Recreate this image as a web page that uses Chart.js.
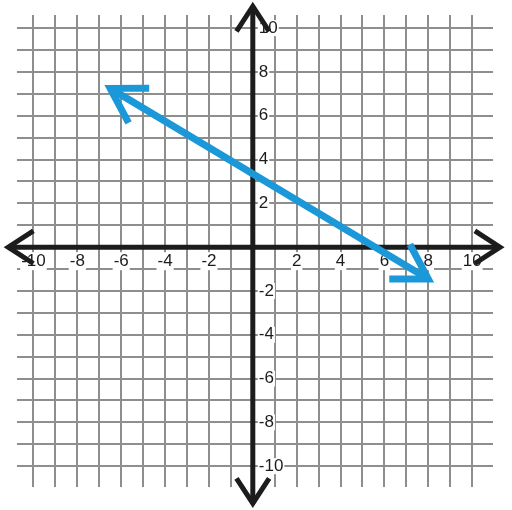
<!DOCTYPE html>
<html>
<head>
<meta charset="utf-8">
<script src="https://cdn.jsdelivr.net/npm/chart.js@4.4.0/dist/chart.umd.min.js"></script>
<style>
  html, body { margin: 0; padding: 0; background: #fff; }
</style>
</head>
<body>
<canvas id="graph" width="512" height="510"></canvas>
<script>
// grid runs a little past +-10 like the worksheet
const xRange = [-10.75, 10.95];
const yRange = [-10.95, 10.6];
const xTicks = [-10, -8, -6, -4, -2, 2, 4, 6, 8, 10];
const yTicks = [10, 8, 6, 4, 2, -2, -4, -6, -8, -10];
// where the axis arrows point to
const xAxisEnds = [-11.15, 11.27];
const yAxisEnds = [-11.7, 11.0];
// the blue line, arrow at each end
const lineX = [-6.5, 8.0];
const lineY = [7.25, -1.45];

const blue = '#1a98d8';
const ink = '#1c1c1c';
const labelFont = '17px "Liberation Sans", Arial, sans-serif';

function chevron(c, tx, ty, ang, len, spread) {
  // ang = direction the arms go back towards
  c.beginPath();
  c.moveTo(tx + len * Math.cos(ang - spread), ty + len * Math.sin(ang - spread));
  c.lineTo(tx, ty);
  c.lineTo(tx + len * Math.cos(ang + spread), ty + len * Math.sin(ang + spread));
  c.stroke();
}

const axesPlugin = {
  id: 'axes',
  beforeDatasetsDraw(chart) {
    const c = chart.ctx;
    const xs = chart.scales.x, ys = chart.scales.y;
    const x0 = xs.getPixelForValue(0), y0 = ys.getPixelForValue(0);
    const l = xs.getPixelForValue(xAxisEnds[0]), r = xs.getPixelForValue(xAxisEnds[1]);
    const t = ys.getPixelForValue(yAxisEnds[1]), b = ys.getPixelForValue(yAxisEnds[0]);
    c.save();

    // labels with white boxes behind
    c.font = labelFont;
    c.textBaseline = 'middle';
    xTicks.forEach(v => {
      const s = String(v);
      const w = c.measureText(s).width;
      const px = xs.getPixelForValue(v);
      c.fillStyle = '#fff';
      c.fillRect(px - w / 2 - 1, y0 + 5, w + 2, 18);
      c.fillStyle = ink;
      c.textAlign = 'center';
      c.fillText(s, px, y0 + 14);
    });
    yTicks.forEach(v => {
      const s = String(v);
      const w = c.measureText(s).width;
      const py = ys.getPixelForValue(v);
      c.fillStyle = '#fff';
      c.fillRect(x0 + 5, py - 8, w + 2, 16);
      c.fillStyle = ink;
      c.textAlign = 'left';
      c.fillText(s, x0 + 6, py);
    });

    c.strokeStyle = ink;
    c.lineWidth = 5;
    c.lineCap = 'butt';
    c.lineJoin = 'miter';
    c.beginPath();
    c.moveTo(l, y0); c.lineTo(r, y0);
    c.moveTo(x0, t); c.lineTo(x0, b);
    c.stroke();
    const sp = 33 * Math.PI / 180;
    chevron(c, l, y0, 0, 30, sp);
    chevron(c, r, y0, Math.PI, 30, sp);
    chevron(c, x0, t, Math.PI / 2, 30, sp);
    chevron(c, x0, b, -Math.PI / 2, 30, sp);
    c.restore();
  },
  afterDatasetsDraw(chart) {
    const pts = chart.getDatasetMeta(0).data;
    const c = chart.ctx;
    const a = pts[0], z = pts[pts.length - 1];
    const ang = Math.atan2(z.y - a.y, z.x - a.x);
    c.save();
    c.strokeStyle = blue;
    c.lineWidth = 7;
    c.lineCap = 'butt';
    c.lineJoin = 'miter';
    const sp = 31 * Math.PI / 180;
    chevron(c, a.x, a.y, ang, 39, sp);
    chevron(c, z.x, z.y, ang + Math.PI, 39, sp);
    c.restore();
  }
};

new Chart(document.getElementById('graph'), {
  type: 'scatter',
  data: {
    datasets: [{
      type: 'line',
      data: lineX.map((x, i) => ({ x: x, y: lineY[i] })),
      borderColor: blue,
      borderWidth: 7,
      borderCapStyle: 'butt',
      pointRadius: 0,
      fill: false,
      clip: false
    }]
  },
  options: {
    responsive: false,
    animation: false,
    layout: { padding: { left: 17, right: 19, top: 15, bottom: 23 } },
    plugins: { legend: { display: false }, tooltip: { enabled: false } },
    scales: {
      x: {
        type: 'linear',
        min: xRange[0],
        max: xRange[1],
        grid: { color: '#8e8e8e', lineWidth: 2, drawTicks: false },
        border: { display: false },
        ticks: { display: false, stepSize: 1, includeBounds: false, autoSkip: false }
      },
      y: {
        type: 'linear',
        min: yRange[0],
        max: yRange[1],
        grid: { color: '#8e8e8e', lineWidth: 2, drawTicks: false },
        border: { display: false },
        ticks: { display: false, stepSize: 1, includeBounds: false, autoSkip: false }
      }
    }
  },
  plugins: [axesPlugin]
});
</script>
</body>
</html>
